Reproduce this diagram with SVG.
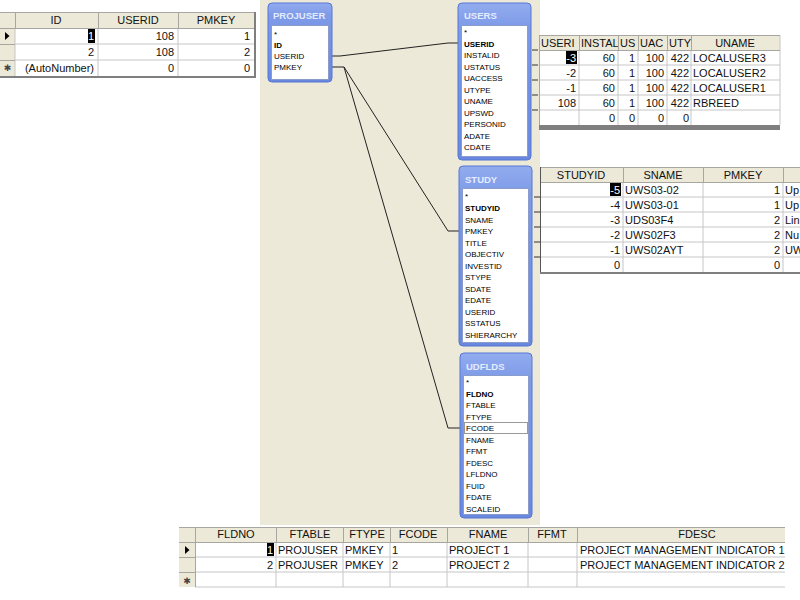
<svg xmlns="http://www.w3.org/2000/svg" width="800" height="600" viewBox="0 0 800 600">
<defs>
<linearGradient id="tg" x1="0" y1="0" x2="0" y2="1">
<stop offset="0" stop-color="#93ACEF"/>
<stop offset="0.15" stop-color="#7E9BE8"/>
<stop offset="1" stop-color="#6888E0"/>
</linearGradient>
<clipPath id="cU1"><rect x="539" y="35" width="40" height="15"/></clipPath>
<clipPath id="cU2"><rect x="579" y="35" width="39" height="15"/></clipPath>
<clipPath id="cU3"><rect x="618" y="35" width="20" height="15"/></clipPath>
<clipPath id="cU4"><rect x="638" y="35" width="29" height="15"/></clipPath>
<clipPath id="cU5"><rect x="667" y="35" width="24" height="15"/></clipPath>
</defs>
<style>
.hd{fill:#ECE9D8}
.wh{fill:#FFFFFF}
.grid{stroke:#C6C6C6;stroke-width:1;fill:none}
.hsep{stroke:#A8A6A0;stroke-width:1;fill:none}
.frame{stroke:#7F7F7F;stroke-width:2;fill:none}
.t{font-family:"Liberation Sans",Arial,sans-serif;font-size:11px;fill:#111}
.r{text-anchor:end}
.c{text-anchor:middle}
.hi{fill:#000}
.tw{fill:#fff}
.box{fill:url(#tg);stroke:#5677D6;stroke-width:1}
.list{fill:#fff;stroke:#8A9CCB;stroke-width:1}
.ttl{font-family:"Liberation Sans",Arial,sans-serif;font-size:9.5px;font-weight:bold;fill:#E4ECFF}
.f{font-family:"Liberation Sans",Arial,sans-serif;font-size:8px;fill:#000}
.fb{font-weight:bold}
.conn{stroke:#222;stroke-width:1;fill:none}
.star{font-family:"DejaVu Sans",sans-serif;font-size:9px;fill:#444;text-anchor:middle}
</style>
<rect x="0" y="0" width="800" height="600" fill="#fff"/>
<rect x="260" y="0" width="280" height="525" fill="#ECE9D8"/>

<!-- top-left datasheet -->
<g id="tbl-projuser">
<rect class="hd" x="0" y="12" width="254" height="16"/>
<rect class="hd" x="0" y="28" width="15" height="48"/>
<rect class="wh" x="15" y="28" width="239" height="48"/>
<path class="grid" d="M15,44H254M15,60H254M15,28V76M98,28V76M178,28V76"/>
<path class="hsep" d="M0,28.5H254M0,12.5H254M15.5,12V28M98.5,12V28M178.5,12V28M0,44.5H15M0,60.5H15"/>
<path class="frame" d="M255,12V78M0,77H256"/>
<text class="t c" x="56" y="24">ID</text>
<text class="t c" x="138" y="24">USERID</text>
<text class="t c" x="216" y="24">PMKEY</text>
<polygon points="5,32 9.5,36 5,40" fill="#000"/>
<text class="star" x="7.5" y="71">✱</text>
<rect class="hi" x="88" y="29" width="7" height="14"/>
<text class="t r tw" x="94" y="40">1</text>
<text class="t r" x="174" y="40">108</text>
<text class="t r" x="250" y="40">1</text>
<text class="t r" x="94" y="56">2</text>
<text class="t r" x="174" y="56">108</text>
<text class="t r" x="250" y="56">2</text>
<text class="t r" x="94" y="72">(AutoNumber)</text>
<text class="t r" x="174" y="72">0</text>
<text class="t r" x="250" y="72">0</text>
</g>

<!-- USERS datasheet -->
<g id="tbl-users">
<rect class="hd" x="539" y="35" width="241" height="15"/>
<rect class="wh" x="539" y="50" width="241" height="75"/>
<path class="grid" d="M539,65H780M539,80H780M539,95H780M539,110H780M579,50V125M618,50V125M638,50V125M667,50V125M691,50V125M780,35V125"/>
<path class="hsep" d="M539,50.5H780M539,35.5H780M579.5,35V50M618.5,35V50M638.5,35V50M667.5,35V50M691.5,35V50M539.5,35V125"/>
<rect x="539" y="125" width="241" height="5" fill="#7F7F7F"/>
<path d="M532,50H538M532,65H538M532,80H538M532,95H538M532,110H538" stroke="#333" stroke-width="1"/>
<text class="t" x="541" y="47" clip-path="url(#cU1)">USERI</text>
<text class="t" x="581" y="47" clip-path="url(#cU2)">INSTAL</text>
<text class="t" x="620" y="47" clip-path="url(#cU3)">US</text>
<text class="t" x="640" y="47" clip-path="url(#cU4)">UAC</text>
<text class="t" x="669" y="47" clip-path="url(#cU5)">UTY</text>
<text class="t c" x="735" y="47">UNAME</text>
<rect class="hi" x="566" y="51" width="11" height="13"/>
<text class="t r tw" x="576" y="62">-3</text>
<text class="t r" x="615" y="62">60</text><text class="t r" x="635" y="62">1</text><text class="t r" x="664" y="62">100</text><text class="t r" x="689" y="62">422</text><text class="t" x="693" y="62">LOCALUSER3</text>
<text class="t r" x="576" y="77">-2</text>
<text class="t r" x="615" y="77">60</text><text class="t r" x="635" y="77">1</text><text class="t r" x="664" y="77">100</text><text class="t r" x="689" y="77">422</text><text class="t" x="693" y="77">LOCALUSER2</text>
<text class="t r" x="576" y="92">-1</text>
<text class="t r" x="615" y="92">60</text><text class="t r" x="635" y="92">1</text><text class="t r" x="664" y="92">100</text><text class="t r" x="689" y="92">422</text><text class="t" x="693" y="92">LOCALUSER1</text>
<text class="t r" x="576" y="107">108</text>
<text class="t r" x="615" y="107">60</text><text class="t r" x="635" y="107">1</text><text class="t r" x="664" y="107">100</text><text class="t r" x="689" y="107">422</text><text class="t" x="693" y="107">RBREED</text>
<text class="t r" x="615" y="122">0</text><text class="t r" x="635" y="122">0</text><text class="t r" x="664" y="122">0</text><text class="t r" x="689" y="122">0</text>
</g>

<!-- STUDY datasheet -->
<g id="tbl-study">
<rect class="hd" x="540" y="167" width="260" height="15"/>
<rect class="wh" x="540" y="182" width="260" height="90"/>
<path class="grid" d="M540,197H800M540,212H800M540,227H800M540,242H800M540,257H800M623,182V272M703,182V272M783,182V272"/>
<path class="hsep" d="M540,182.5H800M540,167.5H800M623.5,167V182M703.5,167V182M783.5,167V182"/>
<path d="M540.5,167V273" stroke="#555" stroke-width="1"/>
<path class="frame" d="M540,273H800"/>
<path d="M534,197H540M534,212H540M534,227H540M534,242H540M534,257H540" stroke="#333" stroke-width="1"/>
<text class="t c" x="581" y="179">STUDYID</text>
<text class="t c" x="663" y="179">SNAME</text>
<text class="t c" x="743" y="179">PMKEY</text>
<rect class="hi" x="610" y="183" width="11" height="13"/>
<text class="t r tw" x="620" y="194">-5</text><text class="t" x="625" y="194">UWS03-02</text><text class="t r" x="780" y="194">1</text><text class="t" x="785" y="194">Up</text>
<text class="t r" x="620" y="209">-4</text><text class="t" x="625" y="209">UWS03-01</text><text class="t r" x="780" y="209">1</text><text class="t" x="785" y="209">Up</text>
<text class="t r" x="620" y="224">-3</text><text class="t" x="625" y="224">UDS03F4</text><text class="t r" x="780" y="224">2</text><text class="t" x="785" y="224">Lin</text>
<text class="t r" x="620" y="239">-2</text><text class="t" x="625" y="239">UWS02F3</text><text class="t r" x="780" y="239">2</text><text class="t" x="785" y="239">Nu</text>
<text class="t r" x="620" y="254">-1</text><text class="t" x="625" y="254">UWS02AYT</text><text class="t r" x="780" y="254">2</text><text class="t" x="785" y="254">UW</text>
<text class="t r" x="620" y="269">0</text><text class="t r" x="780" y="269">0</text>
</g>

<!-- UDFLDS datasheet -->
<g id="tbl-udflds">
<rect class="hd" x="179" y="527" width="606" height="15"/>
<rect class="hd" x="179" y="542" width="16" height="45"/>
<rect class="wh" x="195" y="542" width="590" height="45"/>
<path class="grid" d="M195,557H785M195,572H785M195,587H785M276,542V587M343,542V587M390,542V587M447,542V587M528,542V587M577,542V587"/>
<path class="hsep" d="M179,542.5H785M179,527.5H785M195.5,527V587M276.5,527V542M343.5,527V542M390.5,527V542M447.5,527V542M528.5,527V542M577.5,527V542M179,557.5H195M179,572.5H195"/>
<text class="t c" x="236" y="538">FLDNO</text>
<text class="t c" x="310" y="538">FTABLE</text>
<text class="t c" x="367" y="538">FTYPE</text>
<text class="t c" x="418" y="538">FCODE</text>
<text class="t c" x="488" y="538">FNAME</text>
<text class="t c" x="552" y="538">FFMT</text>
<text class="t c" x="697" y="538">FDESC</text>
<polygon points="185,546 189.5,550 185,554" fill="#000"/>
<text class="star" x="187" y="584">✱</text>
<rect class="hi" x="267" y="543" width="7" height="13"/>
<text class="t r tw" x="273" y="554">1</text><text class="t" x="278" y="554">PROJUSER</text><text class="t" x="345" y="554">PMKEY</text><text class="t" x="392" y="554">1</text><text class="t" x="449" y="554">PROJECT 1</text><text class="t" x="580" y="554">PROJECT MANAGEMENT INDICATOR 1</text>
<text class="t r" x="273" y="569">2</text><text class="t" x="278" y="569">PROJUSER</text><text class="t" x="345" y="569">PMKEY</text><text class="t" x="392" y="569">2</text><text class="t" x="449" y="569">PROJECT 2</text><text class="t" x="580" y="569">PROJECT MANAGEMENT INDICATOR 2</text>
</g>

<!-- connectors -->
<g id="connectors">
<path class="conn" d="M332,56H340L448,43H459"/>
<path class="conn" d="M332,67H344L448,231H460"/>
<path class="conn" d="M344,67L448,428H461"/>
</g>

<!-- PROJUSER node -->
<g id="node-projuser">
<rect class="box" x="268" y="3" width="64" height="79" rx="4"/>
<rect class="list" x="271.5" y="25.5" width="57" height="54"/>
<text class="ttl" x="273" y="19">PROJUSER</text>
<text class="f" x="274" y="37">*</text>
<text class="f fb" x="274" y="48">ID</text>
<text class="f" x="274" y="59">USERID</text>
<text class="f" x="274" y="70">PMKEY</text>
</g>

<!-- USERS node -->
<g id="node-users">
<rect class="box" x="458" y="3" width="73" height="157" rx="4"/>
<rect class="list" x="461.5" y="25.5" width="66" height="131"/>
<text class="ttl" x="464" y="19">USERS</text>
<text class="f" x="464" y="35">*</text>
<text class="f fb" x="464" y="46.5">USERID</text>
<text class="f" x="464" y="58">INSTALID</text>
<text class="f" x="464" y="69.5">USTATUS</text>
<text class="f" x="464" y="81">UACCESS</text>
<text class="f" x="464" y="92.5">UTYPE</text>
<text class="f" x="464" y="104">UNAME</text>
<text class="f" x="464" y="115.5">UPSWD</text>
<text class="f" x="464" y="127">PERSONID</text>
<text class="f" x="464" y="138.5">ADATE</text>
<text class="f" x="464" y="150">CDATE</text>
</g>

<!-- STUDY node -->
<g id="node-study">
<rect class="box" x="459" y="166" width="73" height="180" rx="4"/>
<rect class="list" x="462.5" y="188.5" width="66" height="154"/>
<text class="ttl" x="465" y="183">STUDY</text>
<text class="f" x="465" y="199">*</text>
<text class="f fb" x="465" y="211">STUDYID</text>
<text class="f" x="465" y="222.5">SNAME</text>
<text class="f" x="465" y="234">PMKEY</text>
<text class="f" x="465" y="245.5">TITLE</text>
<text class="f" x="465" y="257">OBJECTIV</text>
<text class="f" x="465" y="268.5">INVESTID</text>
<text class="f" x="465" y="280">STYPE</text>
<text class="f" x="465" y="291.5">SDATE</text>
<text class="f" x="465" y="303">EDATE</text>
<text class="f" x="465" y="314.5">USERID</text>
<text class="f" x="465" y="326">SSTATUS</text>
<text class="f" x="465" y="337.5">SHIERARCHY</text>
</g>

<!-- UDFLDS node -->
<g id="node-udflds">
<rect class="box" x="460" y="353" width="72" height="165" rx="4"/>
<rect class="list" x="463.5" y="375.5" width="65" height="139"/>
<text class="ttl" x="466" y="370">UDFLDS</text>
<text class="f" x="466" y="385">*</text>
<text class="f fb" x="466" y="396.5">FLDNO</text>
<text class="f" x="466" y="408">FTABLE</text>
<text class="f" x="466" y="419.5">FTYPE</text>
<rect x="464.5" y="422.5" width="63" height="11" fill="none" stroke="#333" stroke-width="1" stroke-dasharray="1,1"/>
<text class="f" x="466" y="431">FCODE</text>
<text class="f" x="466" y="442.5">FNAME</text>
<text class="f" x="466" y="454">FFMT</text>
<text class="f" x="466" y="465.5">FDESC</text>
<text class="f" x="466" y="477">LFLDNO</text>
<text class="f" x="466" y="488.5">FUID</text>
<text class="f" x="466" y="500">FDATE</text>
<text class="f" x="466" y="511.5">SCALEID</text>
</g>
</svg>
